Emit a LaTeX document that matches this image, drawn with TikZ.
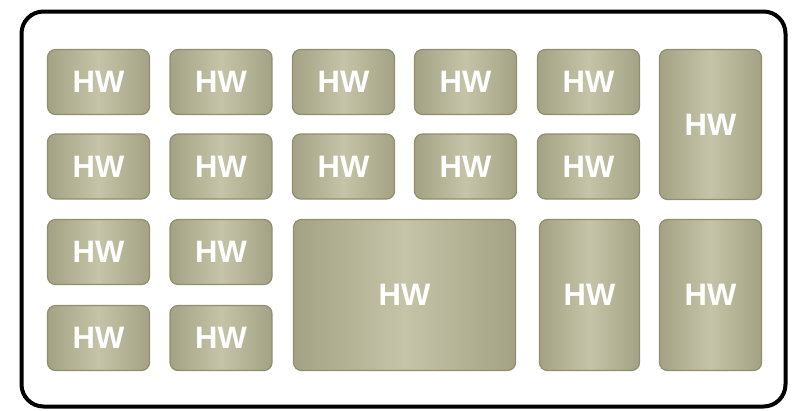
\documentclass[tikz,border=0pt]{standalone}
\usepackage{fontspec}
\setmainfont{Liberation Sans}
\begin{document}
\begin{tikzpicture}[x=1pt,y=-1pt,
  hwbox/.style={rectangle, rounded corners=8pt, draw=hwborder, line width=1.2pt,
    left color=hwedge, right color=hwedge, middle color=hwmid,
    text=white, font=\fontsize{31}{31}\selectfont\bfseries, inner sep=0pt},
  smallbox/.style={hwbox, minimum width=102pt, minimum height=65pt}]
\definecolor{hwedge}{HTML}{A3A284}
\definecolor{hwmid}{HTML}{C5C4A8}
\definecolor{hwborder}{HTML}{8F8E70}
\useasboundingbox (0,0) rectangle (793,410);
\draw[line width=4pt, rounded corners=22pt] (21.5,11.5) rectangle (785.5,406.5);
% row 1
\node[smallbox] (a1) at (98.5,82) {HW};
\node[smallbox] (a2) at (221,82) {HW};
\node[smallbox] (a3) at (343.5,82) {HW};
\node[smallbox] (a4) at (465.5,82) {HW};
\node[smallbox] (a5) at (588.5,82) {HW};
% row 2
\node[smallbox] (b1) at (98.5,166.5) {HW};
\node[smallbox] (b2) at (221,166.5) {HW};
\node[smallbox] (b3) at (343.5,166.5) {HW};
\node[smallbox] (b4) at (465.5,166.5) {HW};
\node[smallbox] (b5) at (588.5,166.5) {HW};
% tall right top
\node[hwbox, minimum width=102pt, minimum height=150pt] (t6) at (710.5,124.5) {HW};
% rows 3-4 left
\node[smallbox] (c1) at (98.5,252) {HW};
\node[smallbox] (c2) at (221,252) {HW};
\node[smallbox] (d1) at (98.5,338) {HW};
\node[smallbox] (d2) at (221,338) {HW};
% big box
\node[hwbox, minimum width=222pt, minimum height=151pt] (big) at (404.5,295) {HW};
% bottom right tall
\node[hwbox, minimum width=100pt, minimum height=151pt] (t5) at (589.5,295) {HW};
\node[hwbox, minimum width=102pt, minimum height=151pt] (t6b) at (710.5,295) {HW};
\end{tikzpicture}
\end{document}
